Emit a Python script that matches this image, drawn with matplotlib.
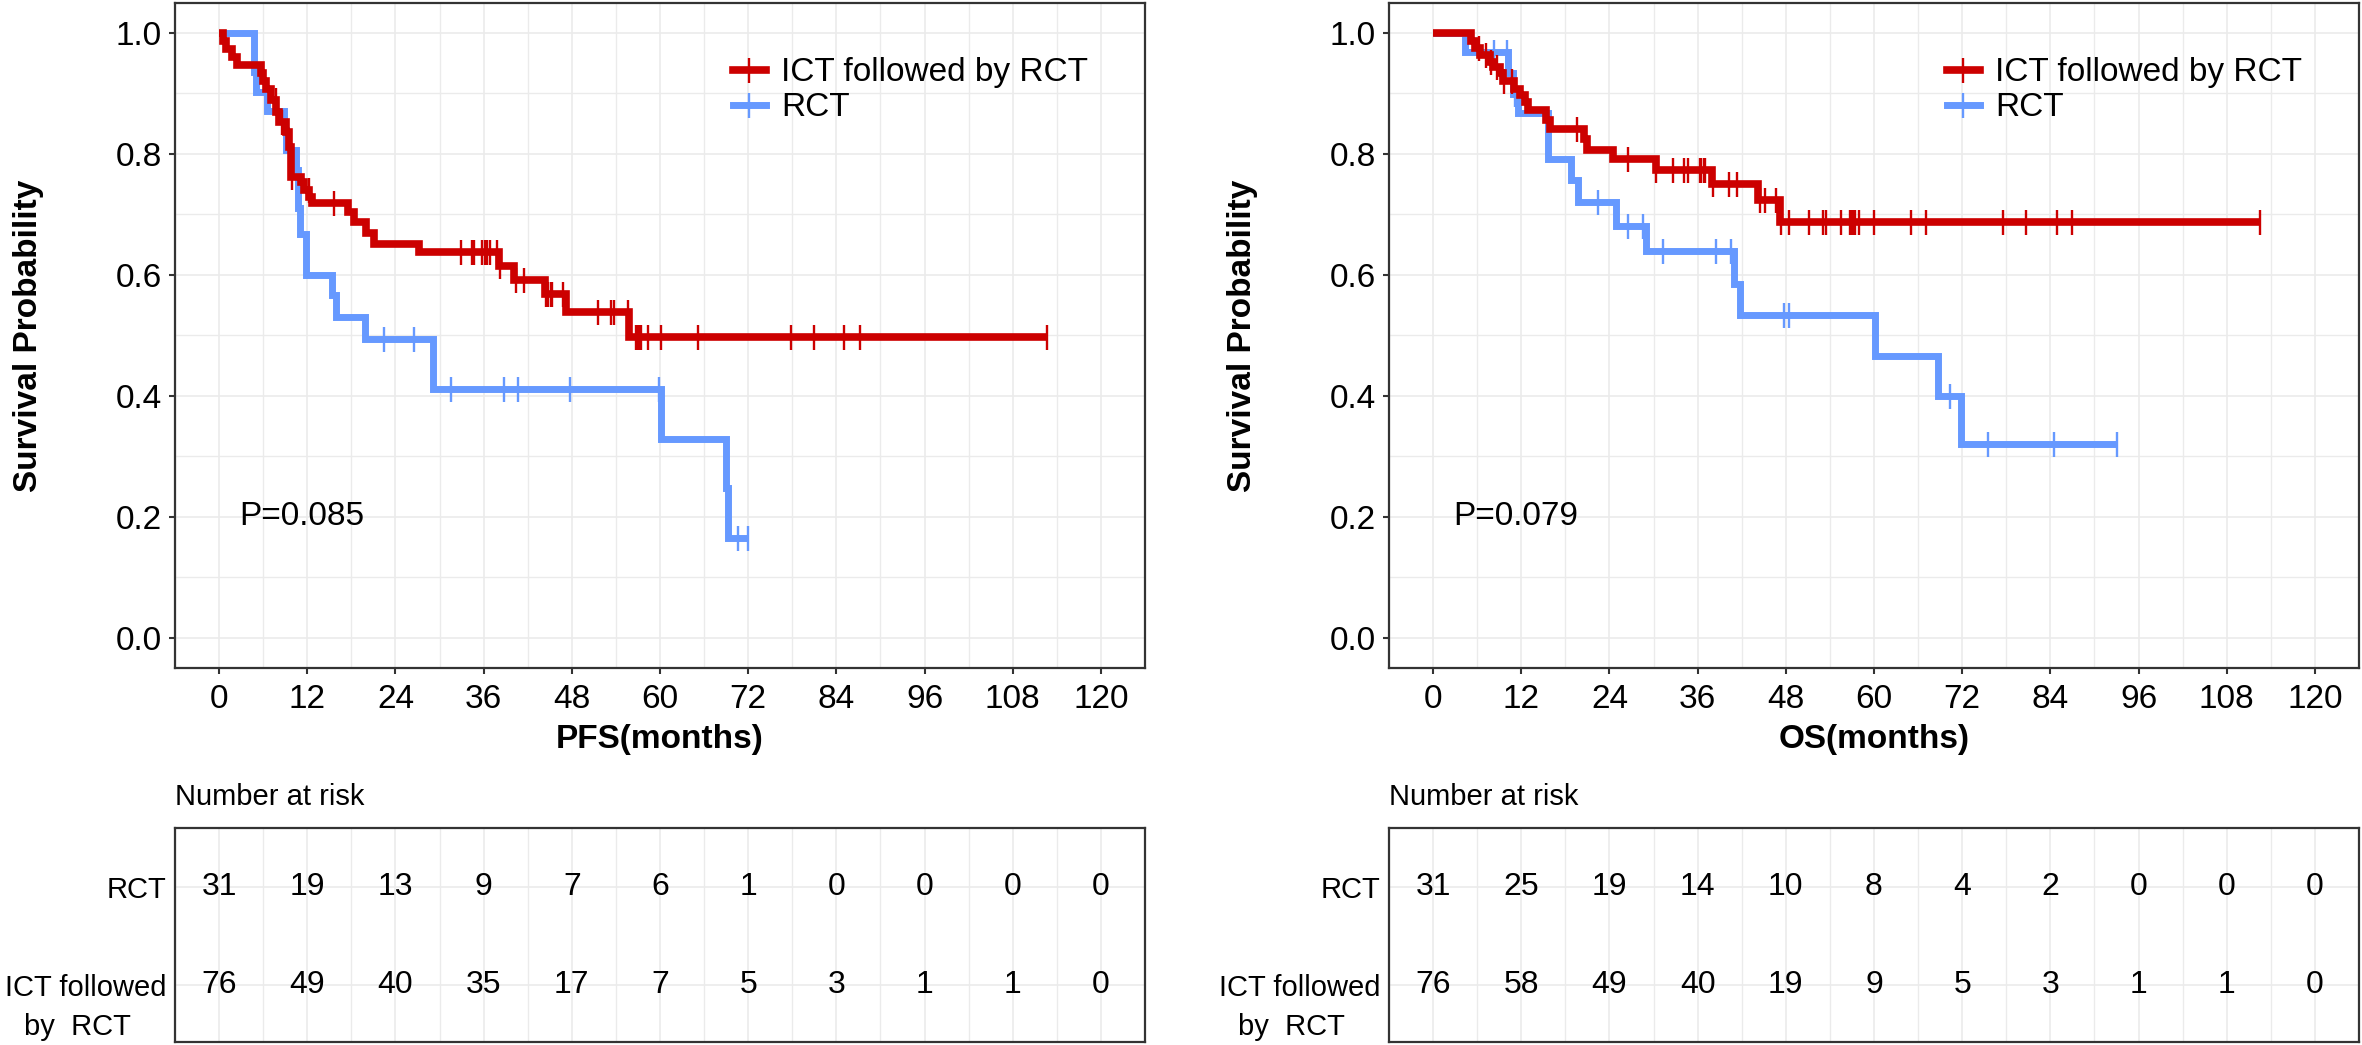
import matplotlib
matplotlib.use('Agg')
import matplotlib.pyplot as plt
import numpy as np
from matplotlib.lines import Line2D
from matplotlib.ticker import MultipleLocator

plt.rcParams['font.family'] = ['Liberation Sans', 'DejaVu Sans']

# ---------------- data ----------------
groups = ["ICT followed by RCT", "RCT"]
risk_times = [0, 12, 24, 36, 48, 60, 72, 84, 96, 108, 120]

# PFS - ICT followed by RCT
pfs_ict_t = [0, 0.5, 1.0, 1.7, 2.5, 5.7, 6.0, 6.4, 7.1, 7.8, 8.2, 9.1, 9.5, 9.8, 11.1, 11.6,
             12.3, 12.7, 17.5, 18.4, 20.0, 21.1, 27.2, 38.1, 40.1, 44.4, 47.2, 55.8]
pfs_ict_s = [1.0, 0.987, 0.974, 0.961, 0.947, 0.934, 0.921, 0.908, 0.889, 0.870, 0.853, 0.836,
             0.811, 0.762, 0.754, 0.740, 0.729, 0.718, 0.704, 0.687, 0.670, 0.651, 0.637, 0.615,
             0.592, 0.568, 0.538, 0.498]
pfs_ict_cens = [7.7, 8.6, 9.9, 12.2, 15.6, 32.9, 34.4, 34.7, 35.8, 36.2, 36.5, 36.8, 37.8, 38.2,
                40.4, 41.5, 44.5, 44.8, 45.1, 45.3, 46.8, 51.5, 53.3, 53.7, 55.6, 56.7, 56.9,
                57.1, 57.4, 58.3, 60.2, 65.2, 77.8, 81.0, 85.0, 87.2, 112.6]
pfs_ict_end = 112.6

# PFS - RCT
pfs_rct_t = [0, 4.8, 5.0, 6.5, 8.9, 9.1, 10.5, 10.8, 11.0, 11.8, 15.4, 15.9, 19.9, 29.1,
             60.1, 69.0, 69.3]
pfs_rct_s = [1.0, 0.935, 0.903, 0.871, 0.839, 0.806, 0.774, 0.710, 0.668, 0.600, 0.566, 0.530,
             0.494, 0.412, 0.329, 0.247, 0.165]
pfs_rct_cens = [22.4, 26.5, 31.5, 38.8, 40.7, 47.8, 59.8, 70.6, 72.0]
pfs_rct_end = 72.0

# OS - ICT followed by RCT
os_ict_t = [0, 5.2, 5.7, 6.4, 7.7, 8.2, 9.1, 9.5, 11.0, 11.8, 12.5, 12.9, 15.4, 15.9, 20.6,
            21.0, 24.5, 30.3, 37.9, 44.2, 47.2]
os_ict_s = [1.0, 0.987, 0.975, 0.963, 0.952, 0.944, 0.933, 0.920, 0.908, 0.897, 0.886, 0.872,
            0.856, 0.842, 0.825, 0.806, 0.792, 0.773, 0.751, 0.723, 0.687]
os_ict_cens = [6.3, 7.2, 7.9, 8.7, 9.6, 10.8, 19.6, 26.5, 30.4, 32.6, 34.2, 34.7, 36.3, 36.5,
               36.8, 37.0, 38.1, 40.2, 41.3, 44.5, 45.1, 46.7, 47.3, 48.5, 51.2, 53.0, 53.4,
               55.5, 56.7, 56.9, 57.1, 57.4, 58.0, 60.0, 65.1, 67.1, 77.6, 80.7, 84.9, 87.0,
               112.5]
os_ict_end = 112.5

# OS - RCT
os_rct_t = [0, 4.3, 10.2, 10.9, 11.6, 15.6, 18.8, 19.7, 24.9, 29.0, 41.0, 41.7, 60.1, 68.7, 71.8]
os_rct_s = [1.0, 0.968, 0.933, 0.899, 0.867, 0.792, 0.757, 0.720, 0.681, 0.640, 0.585, 0.533,
            0.466, 0.400, 0.320]
os_rct_cens = [8.3, 10.0, 11.2, 22.4, 26.5, 28.6, 31.3, 38.5, 40.6, 47.8, 48.5, 70.3, 75.5,
               84.5, 93.0]
os_rct_end = 93.0

pfs_risk_rct = [31, 19, 13, 9, 7, 6, 1, 0, 0, 0, 0]
pfs_risk_ict = [76, 49, 40, 35, 17, 7, 5, 3, 1, 1, 0]
os_risk_rct = [31, 25, 19, 14, 10, 8, 4, 2, 0, 0, 0]
os_risk_ict = [76, 58, 49, 40, 19, 9, 5, 3, 1, 1, 0]

pvals = ["P=0.085", "P=0.079"]
xtitles = ["PFS(months)", "OS(months)"]

# ---------------- style ----------------
RED = '#CC0000'
BLUE = '#6699FF'
GRID = '#EBEBEB'
DARK = '#333333'
W, H = 2362, 1045

fig = plt.figure(figsize=(W / 100, H / 100), dpi=100)


def km(ax, t, s, cens, end, color, lw):
    tt = np.append(t, end)
    ss = np.append(s, s[-1])
    ax.step(tt, ss, where='post', color=color, lw=lw, solid_capstyle='butt',
            solid_joinstyle='miter')
    idx = np.searchsorted(np.array(t), np.array(cens), side='right') - 1
    ax.plot(cens, np.array(s)[idx], ls='none', marker='|', ms=18, mew=1.7, color=color)


def style_axes(ax):
    for sp in ax.spines.values():
        sp.set_color(DARK)
        sp.set_linewidth(1.6)
    ax.set_xlim(-6, 126)
    ax.xaxis.set_major_locator(MultipleLocator(12))
    ax.xaxis.set_minor_locator(MultipleLocator(6))
    ax.grid(True, which='major', color=GRID, lw=1.2)
    ax.grid(True, which='minor', color=GRID, lw=1.0)
    ax.set_axisbelow(True)
    ax.tick_params(which='minor', length=0)


panels = [
    (175, pfs_ict_t, pfs_ict_s, pfs_ict_cens, pfs_ict_end,
     pfs_rct_t, pfs_rct_s, pfs_rct_cens, pfs_rct_end, pfs_risk_rct, pfs_risk_ict, 0),
    (1389, os_ict_t, os_ict_s, os_ict_cens, os_ict_end,
     os_rct_t, os_rct_s, os_rct_cens, os_rct_end, os_risk_rct, os_risk_ict, 1),
]

for (x0, it, is_, ic, ie, rt, rs, rc, re, rr, ri, k) in panels:
    ax = fig.add_axes([x0 / W, 1 - 668 / H, 970 / W, 665.3 / H])
    style_axes(ax)
    ax.set_ylim(-0.05, 1.05)
    ax.yaxis.set_major_locator(MultipleLocator(0.2))
    ax.yaxis.set_minor_locator(MultipleLocator(0.1))
    ax.yaxis.set_major_formatter(matplotlib.ticker.FormatStrFormatter('%.1f'))
    ax.tick_params(which='major', labelsize=24, colors=DARK, labelcolor='black',
                   length=4.5, width=1.5)
    ax.tick_params(axis='x', pad=7)
    ax.tick_params(axis='y', pad=5)

    km(ax, rt, rs, rc, re, BLUE, 5.0)
    km(ax, it, is_, ic, ie, RED, 5.5)

    handles = [Line2D([], [], color=RED, lw=5.5, marker='|', ms=18, mew=1.7),
               Line2D([], [], color=BLUE, lw=5.0, marker='|', ms=18, mew=1.7)]
    ax.legend(handles, groups, loc='upper left', bbox_to_anchor=(0.575, 0.918),
              frameon=False, fontsize=24, handlelength=1.0, handletextpad=0.45,
              labelspacing=0.12, borderpad=0, borderaxespad=0, numpoints=1)

    ax.text(2.7, 0.2, pvals[k], fontsize=24, ha='left', va='center')
    ax.text(0.5, -0.108, xtitles[k], transform=ax.transAxes, fontsize=24,
            fontweight='bold', ha='center', va='center')
    ax.text(-0.151, 0.5, 'Survival Probability', transform=ax.transAxes, fontsize=24,
            fontweight='bold', ha='center', va='center', rotation=90)

    # risk table
    axr = fig.add_axes([x0 / W, 1 - 1042 / H, 970 / W, 214 / H])
    style_axes(axr)
    axr.set_ylim(0.418, 2.602)
    axr.set_yticks([1, 2])
    axr.set_yticklabels(['ICT followed', 'RCT'])
    axr.tick_params(axis='y', length=0, pad=6, labelsize=21, labelcolor='black')
    axr.tick_params(axis='x', length=0, labelbottom=False)
    axr.text(-6 / 132 - 0.0, 0.571, 'by  RCT', transform=axr.get_yaxis_transform(),
             fontsize=21, ha='right', va='center')
    for j, tm in enumerate(risk_times):
        axr.text(tm, 2, str(rr[j]), fontsize=23, ha='center', va='center')
        axr.text(tm, 1, str(ri[j]), fontsize=23, ha='center', va='center')
    axr.text(0, 1 + 31 / 214, 'Number at risk', transform=axr.transAxes, fontsize=21,
             ha='left', va='center')

fig.savefig('out.png', dpi=100)
